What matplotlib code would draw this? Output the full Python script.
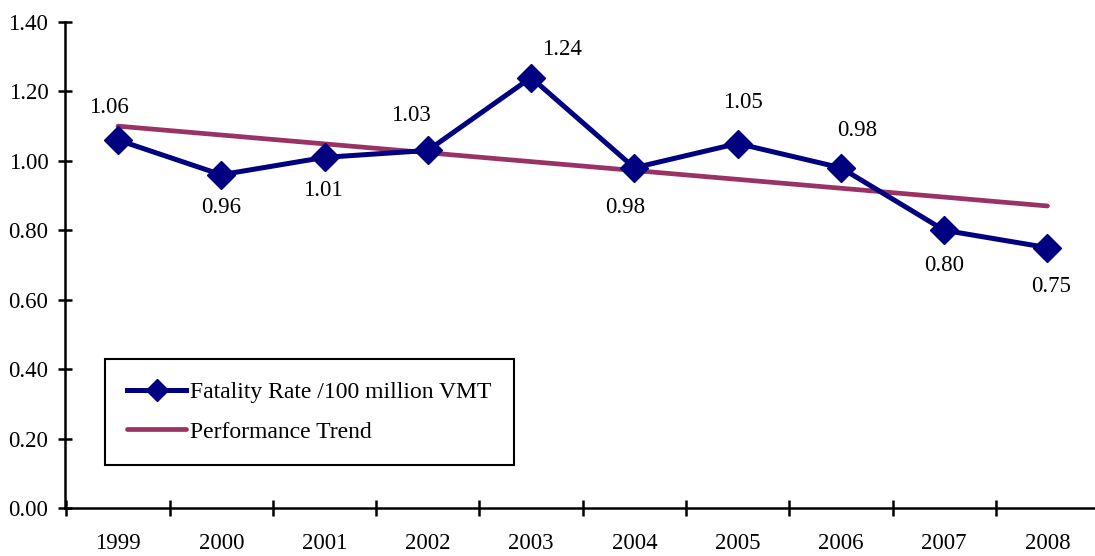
import numpy as np
import matplotlib.pyplot as plt

years = ['1999', '2000', '2001', '2002', '2003', '2004', '2005', '2006', '2007', '2008']
fatality_rate = [1.06, 0.96, 1.01, 1.03, 1.24, 0.98, 1.05, 0.98, 0.80, 0.75]
# performance trend line, end points
trend_years = ['1999', '2008']
trend_values = [1.10, 0.87]

# label offsets from each point (pixels)
label_offsets = [(-9, 33), (0, -33), (-2, -33), (-17, 35), (31, 28),
                 (-9, -40), (5, 41), (16, 37), (0, -35), (4, -39)]

plt.rcParams['font.family'] = ['Liberation Serif', 'DejaVu Serif']
FS = 16.5

fig = plt.figure(figsize=(10.95, 5.56), dpi=100)
ax = fig.add_axes([65 / 1095, 1 - 508 / 556, (1095 - 65) / 1095, (508 - 22) / 556])

x = np.arange(len(years))
x_trend = [years.index(y) for y in trend_years]

ax.plot(x, fatality_rate, color='#000080', lw=3.6, marker='D', ms=14,
        label='Fatality Rate /100 million VMT', zorder=3)
ax.plot(x_trend, trend_values, color='#993366', lw=3.4, label='Performance Trend',
        solid_capstyle='round', zorder=2)

for xi, v, (dx, dy) in zip(x, fatality_rate, label_offsets):
    ax.annotate(f'{v:.2f}', (xi, v), xytext=(dx, dy), textcoords='offset pixels',
                ha='center', va='center', fontsize=FS)

ax.set_xlim(-0.513, 9.46)
ax.set_ylim(0, 1.40)
ax.set_yticks(np.arange(0, 1.41, 0.2))
ax.set_yticklabels([f'{v:.2f}' for v in np.arange(0, 1.41, 0.2)])
ax.set_xticks(np.arange(-0.5, 9.0, 1.0))
ax.set_xticklabels([])
ax.set_xticks(x, minor=True)
ax.set_xticklabels(years, minor=True)

ax.tick_params(axis='y', direction='inout', length=10, width=1.8, labelsize=FS, pad=7)
ax.tick_params(axis='x', which='major', direction='inout', length=12, width=1.8)
ax.tick_params(axis='x', which='minor', length=0, labelsize=FS, pad=18)

for s in ['top', 'right']:
    ax.spines[s].set_visible(False)
for s in ['left', 'bottom']:
    ax.spines[s].set_linewidth(1.8)

leg = ax.legend(loc='lower left', bbox_to_anchor=(40 / 1030, 43 / 486), fontsize=17,
                frameon=True, fancybox=False, edgecolor='black', framealpha=1,
                borderpad=0.95, handlelength=2.5, handletextpad=0.15, labelspacing=0.75,
                borderaxespad=0)
leg.get_frame().set_linewidth(1.5)
for h in leg.legend_handles:
    h.set_markersize(11)

fig.savefig('out.png', dpi=100)
